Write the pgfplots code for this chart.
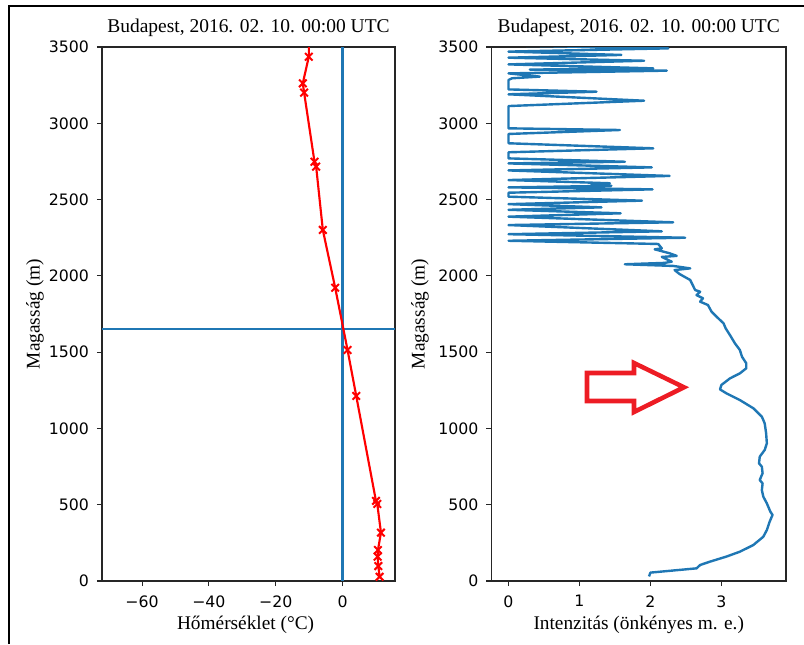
\documentclass[border=0pt]{standalone}
\usepackage{fontspec}
\setmainfont{Liberation Serif}
\newfontfamily\tickfont{DejaVu Sans}
\usepackage{pgfplots}
\pgfplotsset{compat=1.18}
\definecolor{mplblue}{HTML}{1F77B4}
\definecolor{arrowred}{HTML}{ED1C24}

% temperature profile: T (degC), height (m)
\pgfplotstableread{
T h
11.1 28
10.7 98
10.5 160
10.6 203
11.5 317
10.4 505
10.0 525
4.1 1213
1.5 1514
-2.2 1922
-5.9 2301
-7.9 2716
-8.4 2748
-11.5 3201
-11.9 3262
-10.1 3436
-9.9 3800
}\temptable

% backscatter intensity profile: I (arb. units), height (m)
\pgfplotstableread{
I h
1.98 30
2.00 55
2.65 83
2.70 105
2.84 127
3.07 160
3.26 192
3.45 236
3.59 290
3.64 334
3.68 389
3.72 433
3.69 454
3.64 509
3.59 553
3.57 596
3.58 640
3.54 662
3.58 706
3.57 749
3.53 771
3.54 815
3.61 859
3.64 902
3.63 968
3.61 1033
3.57 1077
3.45 1132
3.26 1186
3.07 1230
2.98 1256
3.00 1285
3.12 1328
3.26 1361
3.35 1394
3.35 1427
3.29 1470
3.26 1514
3.19 1558
3.12 1612
3.06 1656
3.03 1689
2.93 1733
2.86 1766
2.81 1809
2.70 1831
2.74 1853
2.65 1874
2.70 1896
2.63 1907
2.56 1973
2.41 2012
2.34 2038
2.56 2049
2.32 2065
1.64 2076
2.20 2085
2.30 2093
2.16 2124
2.37 2131
2.27 2148
2.06 2174
2.16 2180
2.11 2209
0.00 2230
2.49 2250
0.00 2273
2.16 2292
0.00 2333
2.32 2351
0.00 2388
1.58 2410
0.00 2433
1.31 2449
0.00 2470
1.88 2493
0.00 2519
0.00 2545
2.03 2567
0.00 2580
1.45 2590
1.17 2598
1.43 2607
0.00 2628
2.27 2655
0.00 2691
2.02 2711
0.00 2737
1.64 2748
0.00 2770
0.00 2810
2.04 2836
0.00 2869
0.00 2930
1.57 2956
0.00 2967
0.00 3113
1.91 3148
0.00 3190
1.24 3207
0.00 3222
0.00 3284
0.05 3295
0.44 3306
0.00 3327
2.23 3345
0.30 3352
2.04 3360
0.00 3386
1.91 3410
0.00 3430
1.59 3448
0.00 3470
2.25 3491
0.00 3510
}\inttable

\pgfplotsset{
  panel/.style={
    scale only axis,
    anchor=south west,
    width=219.75pt, height=400.5pt,
    ymin=0, ymax=3500,
    ytick={0,500,...,3500},
    axis line style={black!85, line width=0.8pt},
    tick style={black!85, line width=0.8pt},
    tick align=outside,
    major tick length=3.8pt,
    xtick pos=bottom, ytick pos=left,
    /pgf/number format/assume math mode=true,
    /pgf/number format/1000 sep={},
    ticklabel style={font=\tickfont\fontsize{11.8}{13}\selectfont},
    xticklabel style={yshift=-3.5pt},
    yticklabel style={xshift=-2.5pt},
    title style={font=\fontsize{14.6}{16}\selectfont, at={(axis description cs:0.5,1.013)}, anchor=base},
    title={Budapest, 2016. 02. 10. 00:00 UTC},
    label style={font=\fontsize{14.5}{16}\selectfont},
    ylabel={Magasság (m)},
  },
}

\begin{document}
\begin{tikzpicture}
\useasboundingbox (0,0) rectangle (603pt,483pt);

% left panel: temperature
\begin{axis}[panel,
  at={(76.5pt,47.25pt)},
  xmin=-72, xmax=15.7,
  xtick={-60,-40,-20,0},
  xticklabels={−60,−40,−20,0},
  xlabel={Hőmérséklet (°C)},
  xlabel style={at={(axis description cs:0.49,-0.082)}, anchor=center},
  ylabel style={at={(axis description cs:-0.229,0.5)}, anchor=center, rotate=0},
]
\addplot[mplblue, line width=1.6pt] coordinates {(0,0) (0,3500)};
\addplot[mplblue, line width=1.6pt] coordinates {(-72,1650) (15.7,1650)};
\addplot[red, line width=1.6pt, mark=x, mark size=4pt, mark options={line width=1.5pt}] table[x=T, y=h] {\temptable};
\end{axis}

% right panel: intensity
\begin{axis}[panel,
  at={(368.6pt,47.25pt)},
  width=220.9pt,
  xmin=-0.24, xmax=3.91,
  xtick={0,1,2,3},
  xlabel={Intenzitás (önkényes m. e.)},
  xlabel style={at={(axis description cs:0.5,-0.082)}, anchor=center},
  ylabel style={at={(axis description cs:-0.243,0.5)}, anchor=center},
]
\addplot[mplblue, line width=1.8pt, line join=round] table[x=I, y=h] {\inttable};
\end{axis}

\begin{scope}[x=0.75pt, y=0.75pt]
  % outer frame
  \draw[black, line width=1.5pt] (9,0) -- (9,638) -- (804,638);
  % highlight arrow
  \draw[arrowred, line width=3.4pt, line join=miter]
    (587,271) -- (634,271) -- (634,281) -- (684,256.7) -- (634,232) -- (634,243) -- (587,243) -- cycle;
\end{scope}
\end{tikzpicture}
\end{document}
